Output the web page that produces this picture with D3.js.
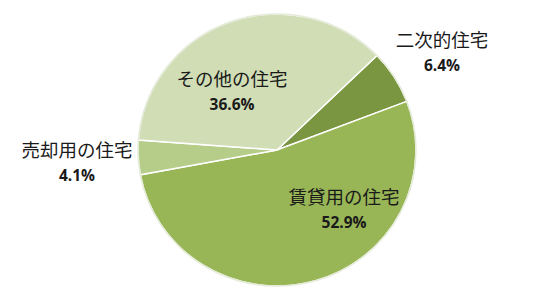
<!DOCTYPE html>
<html>
<head>
<meta charset="utf-8">
<script src="https://cdn.jsdelivr.net/npm/d3@7"></script>
<style>
  body { margin: 0; background: #fff; }
  .name { font-family: "Noto Sans CJK JP", sans-serif; font-size: 18.5px; fill: #1a1a1a; }
  .pct { font-family: "Open Sans", "Noto Sans", sans-serif; font-size: 15.5px; font-weight: bold; fill: #1a1a1a; }
</style>
</head>
<body>
<div id="chart"></div>
<script>
// data
const categories = ["二次的住宅", "賃貸用の住宅", "売却用の住宅", "その他の住宅"]
const shares = [6.4, 52.9, 4.1, 36.6]
const colors = ["#7a9640", "#98b656", "#b6cd8a", "#d0ddb5"]

// label anchors (center of the name line)
const labelPos = [[442, 41], [344, 198], [77, 151], [232, 80]]

let width = 548
let height = 307
let cx = 277, cy = 150
let rx = 139, ry = 136

const svg = d3.select("#chart")
    .append("svg")
    .attr("width", width)
    .attr("height", height)

const pie = d3.pie()
    .sort(null)
    .value(d => d)
    .startAngle(46 * Math.PI / 180)
    .endAngle(46 * Math.PI / 180 + 2 * Math.PI)

const arc = d3.arc()
    .innerRadius(0)
    .outerRadius(ry)

const g = svg.append("g")
    .attr("transform", `translate(${cx},${cy}) scale(${rx / ry},1)`)

g.selectAll("path")
    .data(pie(shares))
    .enter()
    .append("path")
    .attr("d", arc)
    .attr("fill", (d, i) => colors[i])
    .attr("stroke", "#ffffff")
    .attr("stroke-width", 1.5)
    .attr("vector-effect", "non-scaling-stroke")

// soft outline
g.append("ellipse")
    .attr("rx", ry)
    .attr("ry", ry)
    .attr("fill", "none")
    .attr("stroke", "#e4ead8")
    .attr("stroke-width", 1.5)
    .attr("vector-effect", "non-scaling-stroke")

const labels = svg.selectAll("g.label")
    .data(categories)
    .enter()
    .append("g")
    .attr("class", "label")
    .attr("transform", (d, i) => `translate(${labelPos[i][0]},${labelPos[i][1]})`)

labels.append("text")
    .attr("class", "name")
    .attr("text-anchor", "middle")
    .attr("dy", "0.35em")
    .text(d => d)

labels.append("text")
    .attr("class", "pct")
    .attr("text-anchor", "middle")
    .attr("y", 25)
    .attr("dy", "0.35em")
    .text((d, i) => d3.format(".1f")(shares[i]) + "%")
</script>
</body>
</html>
